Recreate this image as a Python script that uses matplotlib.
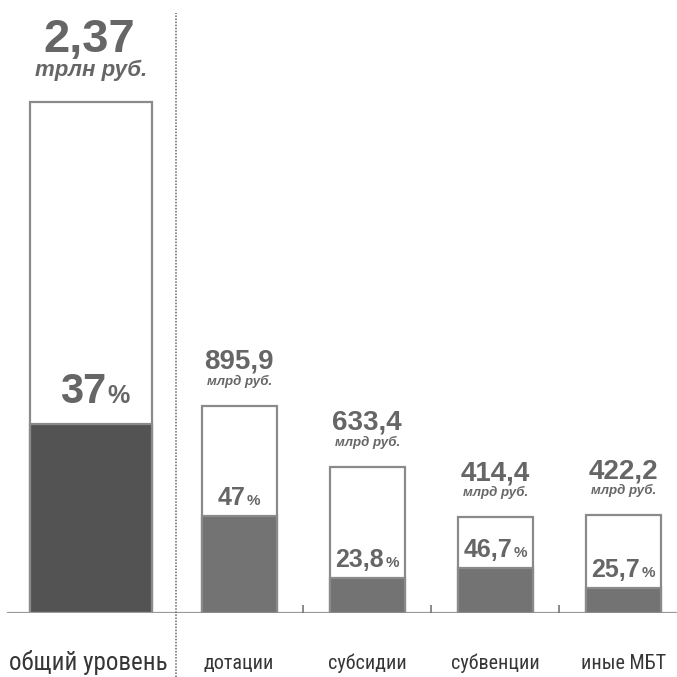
import matplotlib.pyplot as plt
from matplotlib.offsetbox import TextArea, HPacker, AnnotationBbox

# total volume of transfers and its share
total_label = 'общий уровень'
total_value = 2370.0   # млрд руб.
total_share = 37
total_text = '2,37'
total_unit = 'трлн руб.'

# components
categories = ['дотации', 'субсидии', 'субвенции', 'иные МБТ']
values = [895.9, 633.4, 414.4, 422.2]   # млрд руб.
shares = [47, 23.8, 46.7, 25.7]          # %
unit = 'млрд руб.'

GREY_TXT = '#666666'
EDGE = '#8a8a8a'
BOLD = ['Liberation Sans', 'DejaVu Sans']
NARROW = ['Roboto Condensed', 'DejaVu Sans']


def fmt(v):
    return '{:g}'.format(v).replace('.', ',')


def share_label(ax, x, y, share, size, psize, dy):
    num = TextArea(fmt(share), textprops=dict(size=size, weight='bold',
                                              color=GREY_TXT, family=BOLD))
    pct = TextArea('%', textprops=dict(size=psize, weight='bold',
                                       color=GREY_TXT, family=BOLD))
    box = HPacker(children=[num, pct], align='baseline', pad=0, sep=1)
    ab = AnnotationBbox(box, (x, y), xybox=(0, dy), boxcoords='offset pixels',
                        box_alignment=(0.5, 0), frameon=False)
    ax.add_artist(ab)


fig = plt.figure(figsize=(6.77, 6.77), dpi=100)
ax = fig.add_axes([0, 64 / 677, 1, 613 / 677])
ax.set_xlim(-0.867, 4.42)
ax.set_ylim(0, 2843)
ax.axis('off')

ax2 = ax.twinx()
ax2.set_ylim(0, 2653)
ax2.axis('off')

# total bar (own scale)
x0 = -0.156
ax.bar(x0, total_value, width=0.95, color='white', edgecolor=EDGE, linewidth=1.6)
ax.bar(x0, total_value * total_share / 100, width=0.95, color='#535353',
       edgecolor=EDGE, linewidth=1.6)
ax.annotate(total_text, (x0, total_value), xytext=(-2, 50), textcoords='offset pixels',
            ha='center', va='baseline', fontsize=34, fontweight='bold',
            color=GREY_TXT, family=BOLD)
ax.annotate(total_unit, (x0, total_value), xytext=(0, 26), textcoords='offset pixels',
            ha='center', va='baseline', fontsize=16, fontweight='bold',
            fontstyle='italic', color=GREY_TXT, family=BOLD)
share_label(ax, x0 + 0.03, total_value * total_share / 100, total_share, 30, 18, 12)

# component bars
xs = [1, 2, 3, 4]
ax2.bar(xs, values, width=0.586, color='white', edgecolor=EDGE, linewidth=1.6)
dark = [v * s / 100 for v, s in zip(values, shares)]
ax2.bar(xs, dark, width=0.586, color='#737373', edgecolor=EDGE, linewidth=1.6)
for x, v, s, d in zip(xs, values, shares, dark):
    ax2.annotate(fmt(v), (x, v), xytext=(0, 37), textcoords='offset pixels',
                 ha='center', va='baseline', fontsize=20, fontweight='bold',
                 color=GREY_TXT, family=BOLD)
    ax2.annotate(unit, (x, v), xytext=(0, 21), textcoords='offset pixels',
                 ha='center', va='baseline', fontsize=9.5, fontweight='bold',
                 fontstyle='italic', color=GREY_TXT, family=BOLD)
    share_label(ax2, x, d, s, 18, 11, 6)

# baseline, separators and category names
ax.axhline(0, xmin=8 / 677, xmax=1, color='#9a9a9a', lw=1.6)
ax.vlines([1.5, 2.5, 3.5], 0, 2843 * 8 / 613, color='#777777', lw=1.2)
ax.axvline(0.508, ymin=-64 / 613, ymax=600 / 613, color='#666666', lw=1.1,
           ls=(0, (1, 1)), clip_on=False)

ax.annotate(total_label, (x0, 0), xytext=(-3, -57), textcoords='offset pixels',
            ha='center', va='baseline', fontsize=18, color='#363636',
            family=NARROW, annotation_clip=False)
for x, c in zip(xs, categories):
    ax.annotate(c, (x, 0), xytext=(0, -56), textcoords='offset pixels',
                ha='center', va='baseline', fontsize=14.5, color='#363636',
                family=NARROW, annotation_clip=False)

fig.savefig('out.png', dpi=100)
